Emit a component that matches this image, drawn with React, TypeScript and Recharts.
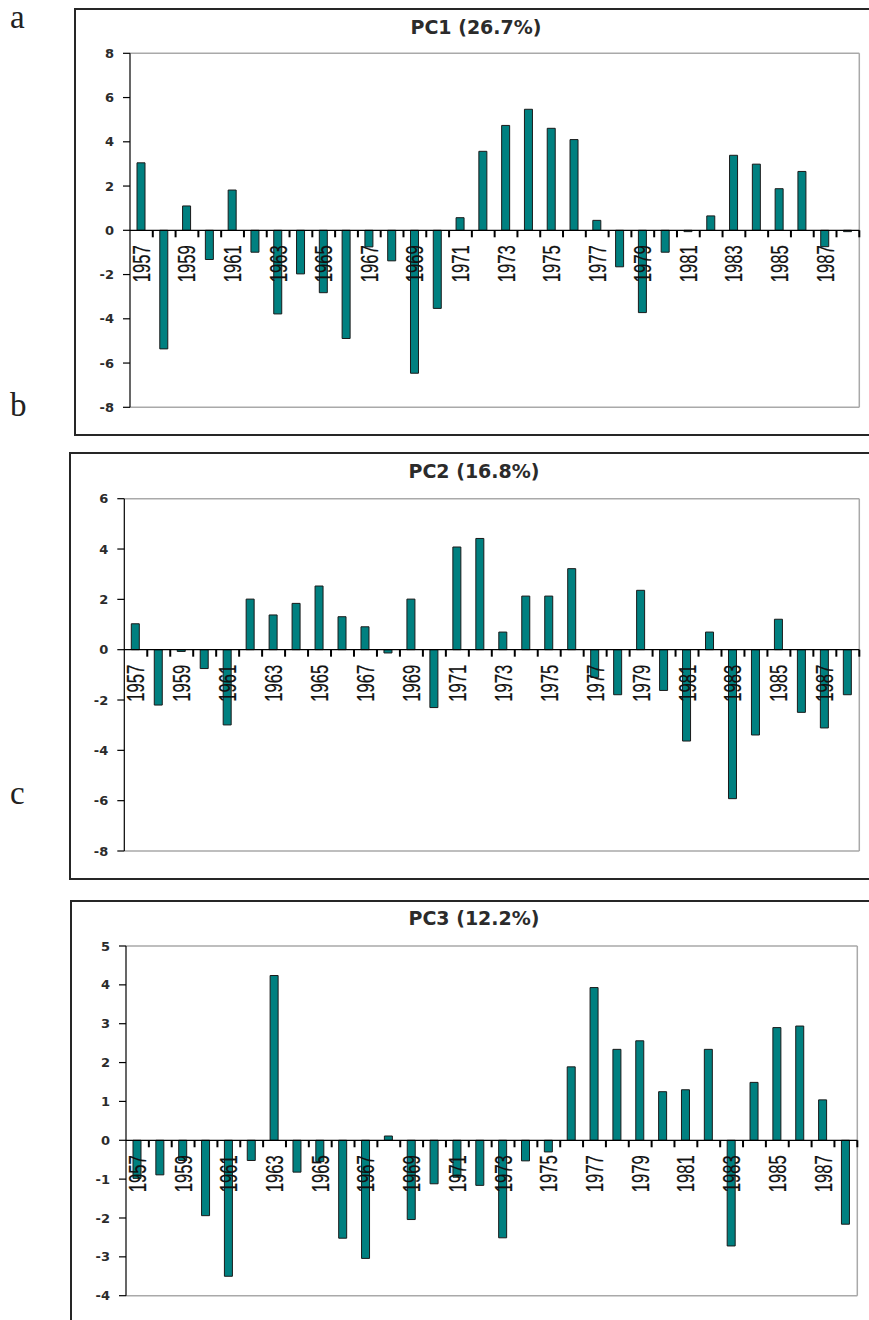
import { BarChart, Bar, XAxis, YAxis, CartesianGrid, ReferenceLine } from 'recharts'

const YEARS = [
  '1957', '1958', '1959', '1960', '1961', '1962', '1963', '1964',
  '1965', '1966', '1967', '1968', '1969', '1970', '1971', '1972',
  '1973', '1974', '1975', '1976', '1977', '1978', '1979', '1980',
  '1981', '1982', '1983', '1984', '1985', '1986', '1987', '1988',
]

// principal component scores per year
const PC1 = [
  3.05, -5.36, 1.1, -1.32, 1.82, -0.99, -3.78, -1.97,
  -2.82, -4.89, -0.75, -1.38, -6.46, -3.53, 0.57, 3.57,
  4.74, 5.47, 4.61, 4.1, 0.45, -1.65, -3.72, -0.99,
  -0.06, 0.65, 3.39, 2.99, 1.88, 2.66, -0.74, -0.06,
]
const PC2 = [
  1.03, -2.2, -0.07, -0.75, -2.99, 2.01, 1.38, 1.84,
  2.53, 1.31, 0.91, -0.13, 2.01, -2.3, 4.08, 4.42,
  0.7, 2.13, 2.13, 3.22, -1.1, -1.79, 2.36, -1.62,
  -3.63, 0.7, -5.92, -3.39, 1.21, -2.49, -3.11, -1.79,
]
const PC3 = [
  -0.98, -0.89, -0.52, -1.94, -3.5, -0.52, 4.24, -0.82,
  -0.55, -2.52, -3.04, 0.11, -2.04, -1.12, -0.95, -1.16,
  -2.51, -0.53, -0.3, 1.89, 3.93, 2.34, 2.56, 1.25,
  1.3, 2.34, -2.72, 1.49, 2.9, 2.94, 1.04, -2.16,
]

const PC1_TICKS = [-8, -6, -4, -2, 0, 2, 4, 6, 8]
const PC2_TICKS = [-8, -6, -4, -2, 0, 2, 4, 6]
const PC3_TICKS = [-4, -3, -2, -1, 0, 1, 2, 3, 4, 5]

const TEAL = '#008080'
const PAGE_W = 869
const PAGE_H = 1320
const Y_W = 40
const X_H = 20

interface Box { left: number; top: number; bottom: number }
interface Plot { left: number; right: number; top: number; bottom: number }

interface PanelProps {
  title: string
  values: number[]
  ticks: number[]
  box: Box
  plot: Plot
  titleX: number
  titleTop: number
}

function YearTick(props: any) {
  const { x, y, index, payload, plotH, plotW, lo, hi } = props
  // category axis sits on the zero line, not at the bottom of the plot
  const zeroY = Number(y) - (plotH * (0 - lo)) / (hi - lo)
  const cx = Number(x)
  const edge = cx + plotW / YEARS.length / 2
  return (
    <g>
      <rect x={edge - 1} y={zeroY} width={2} height={7} fill="#000" />
      {index % 2 === 0 && (
        <text
          transform={`translate(${cx + 8.5}, ${zeroY + 15}) rotate(-90)`}
          textAnchor="end"
          fontSize={24}
          fontFamily="Liberation Sans, Arial, sans-serif"
          textLength={37}
          lengthAdjust="spacingAndGlyphs"
          fill="#111"
          stroke="#111"
          strokeWidth={0.25}
        >
          {payload.value}
        </text>
      )}
    </g>
  )
}

function Panel({ title, values, ticks, box, plot, titleX, titleTop }: PanelProps) {
  const data = YEARS.map((year, i) => ({ year, v: values[i] }))
  const lo = ticks[0]
  const hi = ticks[ticks.length - 1]
  const chartH = Math.min(box.bottom, PAGE_H) - box.top
  const plotH = plot.bottom - plot.top
  const plotW = plot.right - plot.left

  return (
    <>
      <div
        style={{
          position: 'absolute',
          left: box.left - 1,
          top: box.top - 1,
          width: 900,
          height: box.bottom - box.top + 2,
          border: '2px solid #262626',
          boxSizing: 'border-box',
        }}
      />
      <div
        style={{
          position: 'absolute',
          left: titleX - 120,
          top: titleTop,
          width: 240,
          textAlign: 'center',
          fontFamily: 'DejaVu Sans, Verdana, sans-serif',
          fontWeight: 'bold',
          fontSize: 19,
          lineHeight: '19px',
          color: '#2b2b2b',
        }}
      >
        {title}
      </div>
      <div style={{ position: 'absolute', left: 0, top: box.top }}>
        <BarChart
          width={PAGE_W}
          height={chartH}
          data={data}
          margin={{
            top: plot.top - box.top,
            bottom: chartH - (plot.bottom - box.top) - X_H,
            left: plot.left - Y_W,
            right: PAGE_W - plot.right,
          }}
        >
          <CartesianGrid
            stroke="#a9a9a9"
            strokeWidth={1.5}
            horizontalCoordinatesGenerator={({ offset }: any) => [offset.top, offset.top + offset.height]}
            verticalCoordinatesGenerator={({ offset }: any) => [offset.left + offset.width]}
          />
          <YAxis
            domain={[lo, hi]}
            ticks={ticks}
            width={Y_W}
            interval={0}
            axisLine={{ stroke: '#000', strokeWidth: 1.2 }}
            tickLine={{ stroke: '#000', strokeWidth: 1.2 }}
            tickSize={7}
            tickMargin={9}
            tick={{ fill: '#2b2b2b', fontSize: 13, fontWeight: 'bold', fontFamily: 'DejaVu Sans, sans-serif' }}
          />
          <Bar dataKey="v" fill={TEAL} stroke="#1a1a1a" strokeWidth={1} barSize={8} isAnimationActive={false} />
          <ReferenceLine y={0} stroke="#000" strokeWidth={1.2} />
          <XAxis
            dataKey="year"
            height={X_H}
            interval={0}
            axisLine={false}
            tickLine={false}
            tickSize={0}
            tickMargin={0}
            tick={(p: any) => <YearTick {...p} plotH={plotH} plotW={plotW} lo={lo} hi={hi} />}
          />
        </BarChart>
      </div>
    </>
  )
}

function Letter({ ch, top }: { ch: string; top: number }) {
  return (
    <div
      style={{
        position: 'absolute',
        left: 10,
        top,
        fontFamily: 'Liberation Serif, Times New Roman, serif',
        fontSize: 33,
        lineHeight: '33px',
        color: '#222',
      }}
    >
      {ch}
    </div>
  )
}

export default function App() {
  return (
    <div
      style={{
        position: 'absolute',
        left: 0,
        top: 0,
        width: PAGE_W,
        height: PAGE_H,
        overflow: 'hidden',
        background: '#fff',
      }}
    >
      <Letter ch="a" top={1} />
      <Letter ch="b" top={389} />
      <Letter ch="c" top={777} />
      <Panel
        title="PC1 (26.7%)"
        values={PC1}
        ticks={PC1_TICKS}
        box={{ left: 75, top: 9, bottom: 435 }}
        plot={{ left: 130, right: 859.3, top: 53.3, bottom: 407.3 }}
        titleX={476}
        titleTop={18}
      />
      <Panel
        title="PC2 (16.8%)"
        values={PC2}
        ticks={PC2_TICKS}
        box={{ left: 70, top: 453, bottom: 879 }}
        plot={{ left: 124.3, right: 859.3, top: 498.7, bottom: 851 }}
        titleX={474}
        titleTop={462}
      />
      <Panel
        title="PC3 (12.2%)"
        values={PC3}
        ticks={PC3_TICKS}
        box={{ left: 71, top: 901, bottom: 1340 }}
        plot={{ left: 126, right: 857.3, top: 946, bottom: 1295.7 }}
        titleX={474}
        titleTop={909}
      />
    </div>
  )
}
